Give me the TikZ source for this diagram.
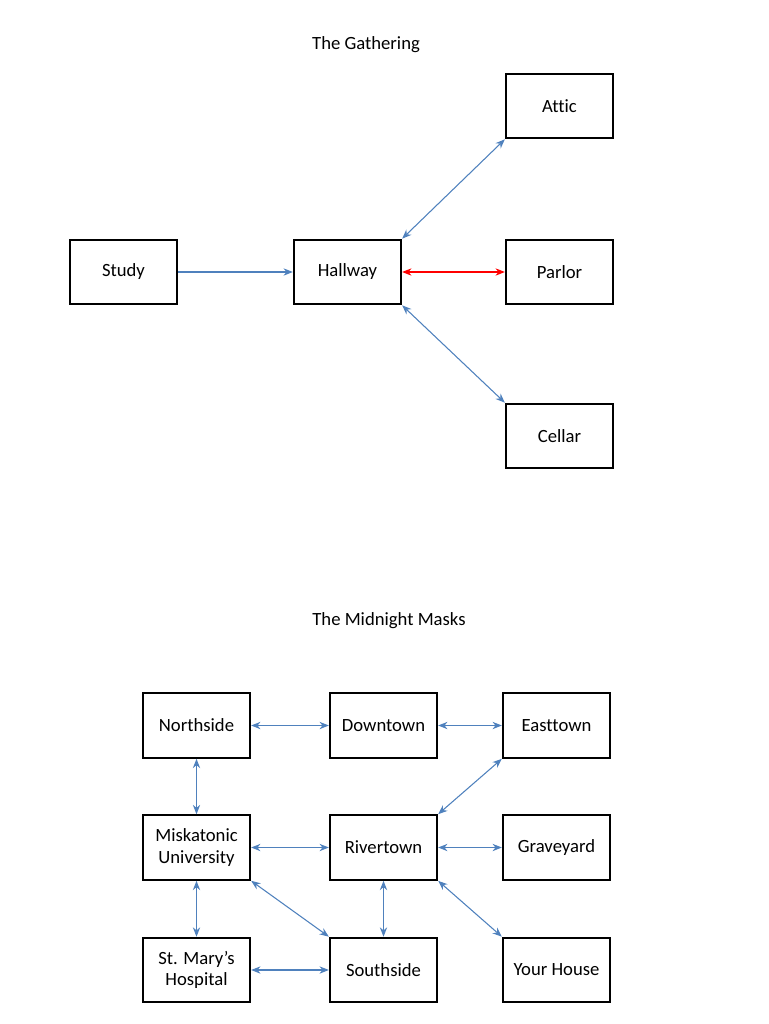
\documentclass[tikz,border=0pt]{standalone}
\usepackage{fontspec}
\setmainfont{Carlito}[Ligatures=NoCommon]
\usetikzlibrary{arrows.meta}

\begin{document}
\begin{tikzpicture}
  [x=0.75pt,y=-0.75pt,
   every node/.style={font=\fontsize{14}{16}\selectfont},
   room/.style={draw,line width=1.5pt,minimum width=80.5pt,minimum height=48.5pt,inner sep=0pt,align=center},
   link/.style={draw={rgb,255:red,79;green,129;blue,189},line width=0.8pt,{Stealth[length=7pt,width=5.5pt]}-{Stealth[length=7pt,width=5.5pt]}},
   oneway/.style={link,-{Stealth[length=7pt,width=5.5pt]}},
   redlink/.style={link,draw=red}]
  \useasboundingbox (0,0) rectangle (768,1024);

  % The Gathering
  \node (t1) at (366,45) {The Gathering};
  \node[room] (attic) at (559.5,106) {Attic};
  \node[room] (study) at (123.5,272) {Study};
  \node[room] (hall) at (347.5,272) {Hallway};
  \node[room] (parlor) at (559.5,272) {Parlor};
  \node[room] (cellar) at (559.5,436) {Cellar};

  \draw[oneway] (study) -- (hall);
  \draw[redlink] (hall) -- (parlor);
  \draw[link] (hall.north east) -- (attic.south west);
  \draw[link] (hall.south east) -- (cellar.north west);

  % The Midnight Masks
  \node (t2) at (389,621) {The Midnight Masks};
  \node[room] (north) at (196.5,725.5) {Northside};
  \node[room] (down) at (383.5,725.5) {Downtown};
  \node[room] (east) at (556.5,725.5) {Easttown};
  \node[room] (misk) at (196.5,847.5) {Miskatonic\\University};
  \node[room] (river) at (383.5,847.5) {Rivertown};
  \node[room] (grave) at (556.5,847.5) {Graveyard};
  \node[room] (mary) at (196.5,970) {St. Mary’s\\Hospital};
  \node[room] (south) at (383.5,970) {Southside};
  \node[room] (house) at (556.5,970) {Your House};

  \foreach \from/\to in {north/down,down/east,north/misk,misk/river,river/grave,misk/mary,river/south,mary/south,
    east.south west/river.north east,misk.south east/south.north west,river.south east/house.north west}
    \draw[link] (\from) -- (\to);

\end{tikzpicture}
\end{document}
